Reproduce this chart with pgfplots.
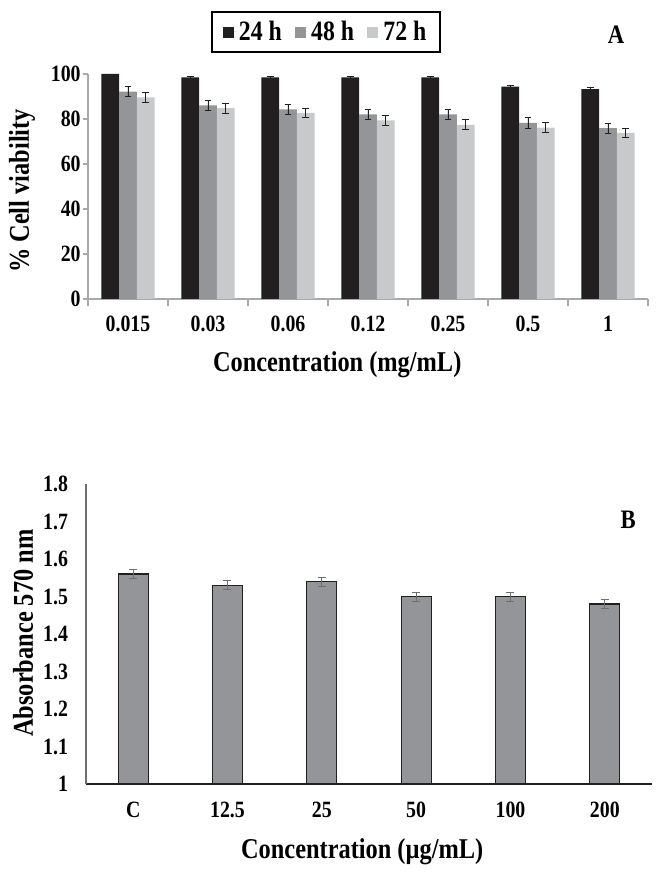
\documentclass[border=0pt]{standalone}
\usepackage{pgfplots}
\pgfplotsset{compat=1.18}
\usepackage{fontspec}
\setmainfont{Liberation Serif}[FakeStretch=0.85]
\definecolor{cA}{HTML}{231F20}
\definecolor{cB}{HTML}{939598}
\definecolor{cC}{HTML}{C8C9CB}
\definecolor{axgray}{HTML}{A7A9AC}
\definecolor{errgray}{HTML}{6D6E71}
\begin{document}
\begin{tikzpicture}[x=1pt,y=1pt]
\useasboundingbox (0,0) rectangle (498.75,654);
% ---------------- Panel A ----------------
\begin{axis}[
  at={(66pt,429.75pt)}, anchor=south west,
  scale only axis, width=420pt, height=168.75pt,
  ymin=0, ymax=100, xmin=-0.5, xmax=6.5,
  ybar=0pt, bar width=13.3pt,
  axis x line*=bottom, axis y line*=left,
  x axis line style={axgray, line width=0.8pt},
  y axis line style={axgray, line width=0.8pt},
  tick align=outside,
  xtick={0,...,6}, xticklabels={0.015,0.03,0.06,0.12,0.25,0.5,1},
  major x tick style={draw=none},
  minor xtick={-0.5,0.5,...,6.5},
  minor x tick style={axgray, line width=0.8pt},
  minor tick length=5pt,
  ytick={0,20,...,100},
  major y tick style={axgray, line width=0.8pt},
  major tick length=4pt,
  /pgf/number format/assume math mode=true,
  ticklabel style={font=\fontsize{17.5}{19}\selectfont\bfseries},
  xticklabel style={yshift=-5pt},
  yticklabel style={xshift=2pt},
  xlabel={Concentration (mg/mL)},
  ylabel={\% Cell viability},
  label style={font=\fontsize{21.5}{24}\selectfont\bfseries},
  xlabel style={at={(axis description cs:0.445,-0.29)}, anchor=center},
  ylabel style={at={(axis description cs:-0.118,0.48)}, anchor=center},
  legend style={at={(0.425,1.187)}, anchor=center, legend columns=3,
    draw=black, line width=1.2pt, inner xsep=8pt, inner ysep=5pt,
    font=\fontsize{21}{23}\selectfont\bfseries,
    /tikz/every even column/.append style={column sep=8pt}},
  legend image code/.code={\fill[#1] (0pt,-4.5pt) rectangle (8pt,3.5pt); \path (0pt,0pt) -- (10pt,0pt);},
  clip=false,
]
\addplot[fill=cA, draw=none, error bars/.cd, y dir=both, y explicit,
  error bar style={cA, line width=0.7pt},
  error mark options={rotate=90, mark size=2.6pt, cA, line width=0.7pt}]
  coordinates {(0,100) +- (0,0) (1,98.5) +- (0,0.6) (2,98.5) +- (0,0.6) (3,98.5) +- (0,0.6)
               (4,98.5) +- (0,0.6) (5,94.4) +- (0,0.6) (6,93.3) +- (0,0.6)};
\addplot[fill=cB, draw=none, error bars/.cd, y dir=both, y explicit,
  error bar style={cA, line width=0.7pt},
  error mark options={rotate=90, mark size=2.6pt, cA, line width=0.7pt}]
  coordinates {(0,92.2) +- (0,2.3) (1,86.1) +- (0,2.3) (2,84.3) +- (0,2.3) (3,82.0) +- (0,2.3)
               (4,82.0) +- (0,2.3) (5,78.3) +- (0,2.3) (6,75.9) +- (0,2.3)};
\addplot[fill=cC, draw=none, error bars/.cd, y dir=both, y explicit,
  error bar style={cA, line width=0.7pt},
  error mark options={rotate=90, mark size=2.6pt, cA, line width=0.7pt}]
  coordinates {(0,89.6) +- (0,2.2) (1,84.8) +- (0,2.2) (2,82.7) +- (0,2.2) (3,79.4) +- (0,2.2)
               (4,77.4) +- (0,2.2) (5,76.2) +- (0,2.2) (6,73.8) +- (0,2.2)};
\legend{24 h, 48 h, 72 h}
\node[font=\fontsize{20}{22}\selectfont\bfseries] at (rel axis cs:0.943,1.173) {A};
\end{axis}
% ---------------- Panel B ----------------
\begin{axis}[
  at={(64.5pt,66pt)}, anchor=south west,
  scale only axis, width=424.5pt, height=225pt,
  ymin=1, ymax=1.8, xmin=-0.5, xmax=5.5,
  ybar=0pt, bar width=22.5pt,
  axis x line*=bottom, axis y line*=left,
  x axis line style={cA, line width=1.1pt},
  y axis line style={errgray, line width=0.8pt},
  xtick={0,...,5}, xticklabels={C,12.5,25,50,100,200},
  ytick={1,1.1,1.2,1.3,1.4,1.5,1.6,1.7,1.8},
  major tick length=0pt,
  /pgf/number format/assume math mode=true,
  /pgf/number format/fixed,
  ticklabel style={font=\fontsize{17.5}{19}\selectfont\bfseries},
  yticklabel style={xshift=-10pt},
  xticklabel style={yshift=-10pt},
  xlabel={Concentration (µg/mL)},
  ylabel={Absorbance 570 nm},
  label style={font=\fontsize{21.5}{24}\selectfont\bfseries},
  xlabel style={at={(axis description cs:0.488,-0.227)}, anchor=center},
  ylabel style={at={(axis description cs:-0.111,0.503)}, anchor=center},
  clip=false,
]
\addplot[fill=cB, draw=cA, line width=0.9pt, error bars/.cd, y dir=both, y explicit,
  error bar style={errgray, line width=0.7pt},
  error mark options={rotate=90, mark size=3pt, errgray, line width=0.7pt}]
  coordinates {(0,1.56) +- (0,0.012) (1,1.53) +- (0,0.012) (2,1.54) +- (0,0.012)
               (3,1.50) +- (0,0.012) (4,1.50) +- (0,0.012) (5,1.48) +- (0,0.012)};
\node[font=\fontsize{20}{22}\selectfont\bfseries] at (rel axis cs:0.958,0.88) {B};
\end{axis}
\end{tikzpicture}
\end{document}
